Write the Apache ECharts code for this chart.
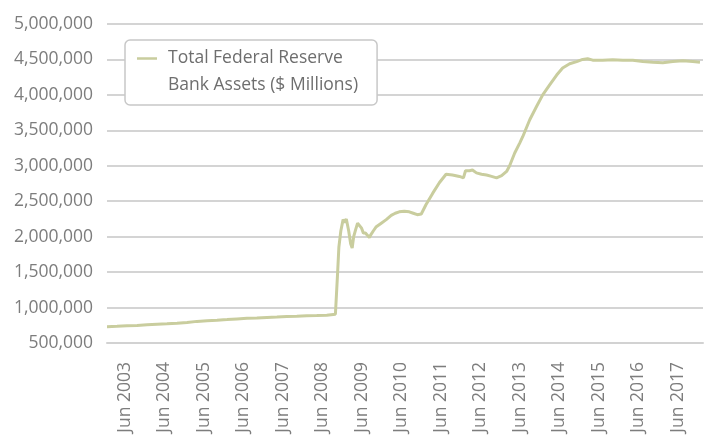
<!DOCTYPE html>
<html>
<head>
<meta charset="utf-8">
<script src="https://cdn.jsdelivr.net/npm/echarts@6/dist/echarts.min.js"></script>
<style>
  html, body { margin: 0; padding: 0; background: #fff; }
  #chart { width: 711px; height: 438px; }
</style>
</head>
<body>
<div id="chart"></div>
<script>
// Weekly H.4.1 readings (sampled), total assets in $ millions
const weekDates = [
  '2002-12-18','2003-03-20','2003-06-21','2003-09-22','2003-12-23','2004-03-25','2004-06-25','2004-09-26',
  '2004-12-27','2005-03-29','2005-06-30','2005-09-30','2006-01-01','2006-04-03','2006-07-04','2006-10-04',
  '2007-01-05','2007-04-07','2007-07-08','2007-10-08','2008-01-09','2008-04-10','2008-07-11','2008-09-29',
  '2008-10-18','2008-10-31','2008-11-18','2008-12-09','2008-12-25','2009-01-08','2009-01-30','2009-02-17',
  '2009-03-03','2009-03-17','2009-04-04','2009-04-22','2009-05-10','2009-05-29','2009-06-15','2009-07-04',
  '2009-07-22','2009-08-09','2009-08-28','2009-09-14','2009-10-12','2009-11-27','2010-01-12','2010-02-27',
  '2010-04-05','2010-05-12','2010-06-28','2010-08-13','2010-09-19','2010-10-26','2010-12-02','2011-01-14',
  '2011-03-17','2011-05-18','2011-07-19','2011-09-16','2011-11-20','2011-12-27','2012-01-15','2012-02-21',
  '2012-03-19','2012-04-25','2012-06-11','2012-07-27','2012-09-12','2012-10-28','2012-12-14','2013-01-29',
  '2013-02-26','2013-04-14','2013-05-30','2013-06-27','2013-08-31','2013-11-03','2013-12-29','2014-03-03',
  '2014-05-07','2014-07-01','2014-09-04','2014-11-08','2015-01-02','2015-02-17','2015-04-05','2015-07-07',
  '2015-10-08','2016-01-08','2016-04-10','2016-07-12','2016-10-12','2017-01-13','2017-04-15','2017-07-17',
  '2017-10-17','2017-12-22'
];
const totalAssets = [
  730000, 735000, 742000, 748000, 757000, 765000, 770000, 778000,
  790000, 805000, 815000, 820000, 830000, 840000, 848000, 852000,
  860000, 866000, 873000, 878000, 884000, 888000, 893000, 905000,
  1450000, 1850000, 2080000, 2240000, 2200000, 2250000, 2080000, 1900000,
  1840000, 2000000, 2100000, 2190000, 2210000, 2120000, 2050000, 2050000,
  2020000, 1990000, 2040000, 2080000, 2140000, 2190000, 2240000, 2300000,
  2330000, 2350000, 2360000, 2350000, 2330000, 2310000, 2320000, 2450000,
  2610000, 2760000, 2880000, 2870000, 2850000, 2830000, 2930000, 2930000,
  2940000, 2900000, 2880000, 2870000, 2850000, 2830000, 2860000, 2920000,
  3000000, 3180000, 3320000, 3410000, 3650000, 3840000, 4000000, 4140000,
  4280000, 4380000, 4440000, 4470000, 4500000, 4510000, 4490000, 4490000,
  4495000, 4490000, 4490000, 4470000, 4460000, 4455000, 4470000, 4480000,
  4470000, 4460000
];
// Axis labels sit at the start of June each year
const labelYears = [2003, 2004, 2005, 2006, 2007, 2008, 2009, 2010, 2011, 2012, 2013, 2014, 2015, 2016, 2017];
const yTicks = [500000, 1000000, 1500000, 2000000, 2500000, 3000000, 3500000, 4000000, 4500000, 5000000];
const seriesName = 'Total Federal Reserve Bank Assets ($ Millions)';

const FONT = '"Open Sans", "Noto Sans", sans-serif';
const TEXT_GRAY = '#7d7d7d';
const LINE_COLOR = '#c9cd9e';

const toStamp = s => Date.UTC(+s.slice(0, 4), +s.slice(5, 7) - 1, +s.slice(8, 10));
const labelStamps = labelYears.map(y => toStamp(y + '-06-01'));

const chart = echarts.init(document.getElementById('chart'), null, { renderer: 'canvas' });

chart.setOption({
  animation: false,
  backgroundColor: '#ffffff',
  grid: { left: 107, right: 8, top: 24, bottom: 95, outerBoundsMode: 'none' },
  legend: {
    left: 125,
    top: 40,
    orient: 'vertical',
    backgroundColor: '#ffffff',
    borderColor: '#c8c8c8',
    borderWidth: 1.5,
    borderRadius: 5,
    padding: [5, 19, 6, 12],
    itemWidth: 26,
    itemHeight: 54,
    // short dash drawn level with the first text line
    icon: 'path://M0,0L0.01,0M0,54L0.01,54M26,0L26.01,0M0,12.2L20,12.2L20,14.8L0,14.8Z',
    itemStyle: { borderWidth: 0 },
    textStyle: { fontFamily: FONT, fontSize: 17.5, lineHeight: 27, color: '#6e6e6e' },
    formatter: name => name.replace(' Bank', '\nBank'),
    data: [seriesName]
  },
  xAxis: {
    type: 'value',
    min: toStamp('2002-12-18'),
    max: toStamp('2018-01-19'),
    axisLine: { show: true, lineStyle: { color: '#d2d2d2', width: 2 } },
    axisTick: { show: false },
    splitLine: { show: false },
    axisLabel: {
      customValues: labelStamps,
      rotate: 90,
      margin: 19,
      fontFamily: FONT,
      fontSize: 17.5,
      color: TEXT_GRAY,
      formatter: v => 'Jun ' + new Date(v).getUTCFullYear()
    }
  },
  yAxis: {
    type: 'value',
    min: yTicks[0],
    max: yTicks[yTicks.length - 1],
    interval: yTicks[1] - yTicks[0],
    axisLine: { show: false },
    axisTick: { show: false },
    splitLine: { show: true, lineStyle: { color: '#c6c6c6', width: 1.5 } },
    axisLabel: {
      margin: 14,
      fontFamily: FONT,
      fontSize: 17.5,
      color: TEXT_GRAY,
      formatter: v => v.toLocaleString('en-US')
    }
  },
  series: [{
    name: seriesName,
    type: 'line',
    showSymbol: false,
    symbol: 'none',
    color: LINE_COLOR,
    lineStyle: { color: LINE_COLOR, width: 3 },
    data: weekDates.map((d, i) => [toStamp(d), totalAssets[i]])
  }]
});
</script>
</body>
</html>
